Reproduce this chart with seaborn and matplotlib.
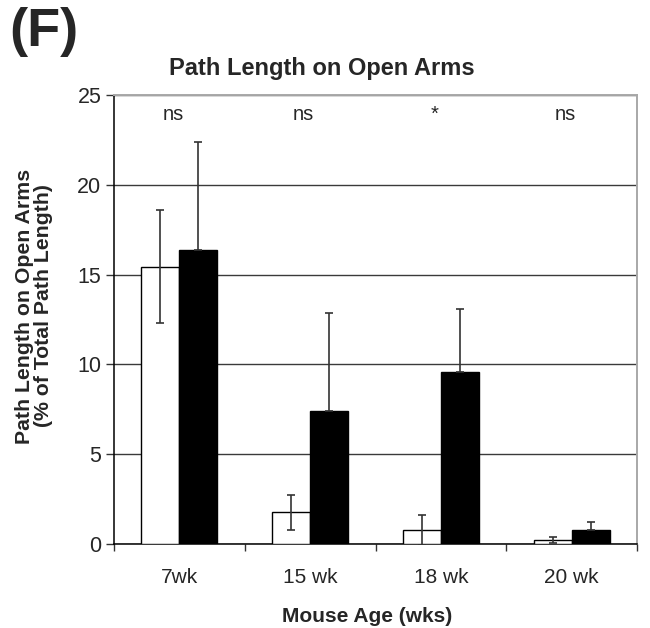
import matplotlib
matplotlib.use("Agg")
import matplotlib.pyplot as plt
import seaborn as sns
import pandas as pd
import numpy as np

# Values read per age group
ages = ["7wk", "15 wk", "18 wk", "20 wk"]
groups = ["Control", "Mutant"]
control_mean = [15.45, 1.76, 0.76, 0.22]
control_err = [3.15, 0.98, 0.84, 0.15]
mutant_mean = [16.37, 7.40, 9.56, 0.80]
mutant_err = [6.03, 5.44, 3.50, 0.40]
significance = ["ns", "ns", "*", "ns"]

sns.set_style("white")
plt.rcParams["font.family"] = ["Liberation Sans", "DejaVu Sans"]

df = pd.DataFrame({
    "age": ages * 2,
    "group": [groups[0]] * len(ages) + [groups[1]] * len(ages),
    "value": control_mean + mutant_mean,
})

fig = plt.figure(figsize=(6.5, 6.28), dpi=100)
ax = fig.add_axes([114 / 650, 1 - 544 / 628, (637 - 114) / 650, (544 - 95) / 628])

sns.barplot(data=df, x="age", y="value", hue="group", order=ages, hue_order=groups,
            palette=["white", "black"], edgecolor="black", linewidth=1.0,
            width=0.58, errorbar=None, legend=False, ax=ax, zorder=3)

# Error bars placed on the bar centres that seaborn laid out
bars = ax.patches
n = len(ages)
ctrl_x = [b.get_x() + b.get_width() / 2 for b in bars[:n]]
mut_x = [b.get_x() + b.get_width() / 2 for b in bars[n:2 * n]]
ax.errorbar(ctrl_x, control_mean, yerr=control_err, fmt="none", ecolor="#333333",
            elinewidth=1.2, capsize=3, capthick=1.2, zorder=4)
ax.errorbar(mut_x, mutant_mean, yerr=[np.zeros(n), mutant_err], fmt="none",
            ecolor="#333333", elinewidth=1.2, capsize=3, capthick=1.2, zorder=4)

ax.set_ylim(0, 25)
ax.set_xlim(-0.5, n - 0.5)
ax.set_yticks([0, 5, 10, 15, 20, 25])
ax.yaxis.grid(True, color="#3a3a3a", linewidth=1.0, zorder=0)
ax.set_axisbelow(True)

# Category ticks sit at group boundaries, labels at group centres
ax.set_xticks(np.arange(-0.5, n, 1.0))
ax.set_xticklabels([])
ax.set_xticks(np.arange(n), minor=True)
ax.set_xticklabels(ages, minor=True, fontsize=15)
ax.tick_params(axis="x", which="major", direction="out", length=5, width=1, color="#333333", bottom=True)
ax.tick_params(axis="x", which="minor", length=0, pad=17)
ax.tick_params(axis="y", direction="out", length=6, width=1, color="#333333", left=True,
               labelsize=15.5, pad=3)

for side in ["left", "bottom"]:
    ax.spines[side].set_color("black")
    ax.spines[side].set_linewidth(1.1)
for side in ["top", "right"]:
    ax.spines[side].set_color("#a8a8a8")
    ax.spines[side].set_linewidth(1.4)

ax.set_xlabel("")
ax.set_ylabel("")

for i, s in enumerate(significance):
    ax.text(i - 0.05, 23.9, s, ha="center", va="center", fontsize=14.5)

fig.text(322 / 650, 1 - 68 / 628, "Path Length on Open Arms", ha="center", va="center",
         fontsize=17, fontweight="bold")
fig.text(9 / 650, 1 - 7 / 628, "(F)", ha="left", va="top", fontsize=39, fontweight="bold")
fig.text(34 / 650, 1 - 306 / 628, "Path Length on Open Arms\n(% of Total Path Length)",
         ha="center", va="center", rotation=90, fontsize=15.3, fontweight="bold",
         multialignment="center", linespacing=1.0)
fig.text(367 / 650, 1 - 617 / 628, "Mouse Age (wks)", ha="center", va="center",
         fontsize=15, fontweight="bold")

fig.savefig("out.png", dpi=100)
